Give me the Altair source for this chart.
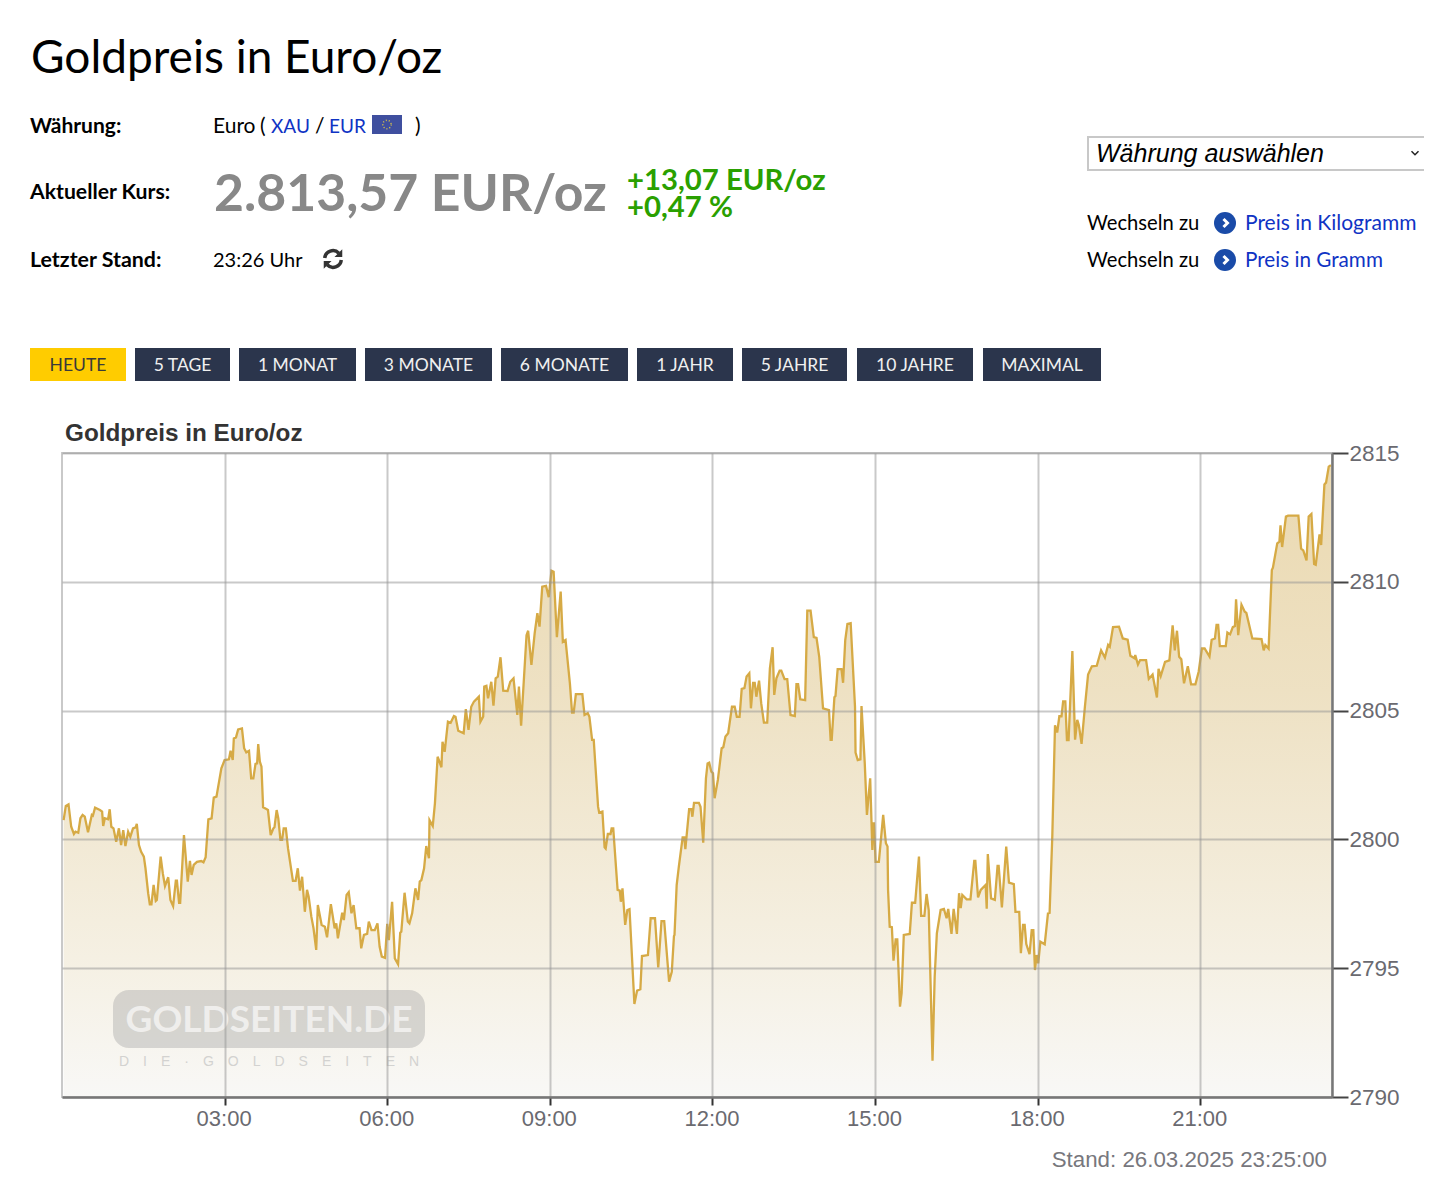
import altair as alt
import pandas as pd

hours = [0.03,0.07,0.12,0.17,0.22,0.25,0.30,0.34,0.38,0.42,0.48,0.55,0.57,0.61,0.70,0.74,0.76,0.79,0.85,0.88,0.91,0.95,1.00,1.05,1.09,1.13,1.17,1.22,1.26,1.31,1.36,1.38,1.42,1.46,1.51,1.54,1.59,1.62,1.65,1.69,1.73,1.75,1.82,1.86,1.90,1.96,2.00,2.05,2.10,2.12,2.16,2.18,2.25,2.32,2.36,2.39,2.43,2.49,2.57,2.61,2.65,2.70,2.76,2.80,2.85,2.94,3.00,
3.08,3.11,3.15,3.17,3.21,3.25,3.32,3.36,3.40,3.45,3.49,3.53,3.57,3.60,3.62,3.65,3.68,3.71,3.77,3.80,3.85,3.90,3.92,3.96,3.99,4.03,4.06,4.09,4.13,4.17,4.26,4.31,4.35,4.39,4.43,4.48,4.52,4.55,4.60,4.64,4.69,4.72,4.79,4.85,4.89,4.96,5.03,5.06,5.09,5.17,5.20,5.25,5.29,5.34,5.38,5.43,5.49,5.52,5.57,5.63,5.66,5.71,5.77,5.82,5.86,5.90,5.96,6.00,6.03,6.09,
6.14,6.20,6.24,6.26,6.32,6.38,6.41,6.46,6.52,6.57,6.60,6.63,6.68,6.72,6.77,6.78,6.84,6.88,6.93,7.00,7.02,7.06,7.12,7.17,7.23,7.26,7.31,7.41,7.45,7.50,7.55,7.60,7.69,7.72,7.77,7.79,7.83,7.86,7.92,7.96,8.00,8.04,8.09,8.14,8.22,8.27,8.33,8.40,8.43,8.47,8.57,8.60,8.66,8.72,8.77,8.81,8.86,8.93,8.98,9.03,9.07,
9.13,9.20,9.24,9.29,9.37,9.41,9.44,9.48,9.60,9.64,9.70,9.73,9.78,9.81,9.89,9.91,9.97,10.01,10.03,10.07,10.12,10.14,10.17,10.25,10.29,10.31,10.34,10.39,10.43,10.47,10.56,10.61,10.67,10.70,10.81,10.86,10.94,11.00,11.06,11.11,11.20,11.25,11.29,11.30,11.34,11.38,11.45,11.48,11.50,11.57,11.61,11.63,11.66,11.75,11.78,11.83,11.88,11.91,11.94,11.98,12.01,12.04,12.10,12.17,12.20,12.24,12.29,12.36,12.41,12.45,12.50,12.54,12.59,12.63,12.68,12.71,12.75,12.78,12.81,12.86,12.90,12.95,13.01,13.06,13.11,13.14,13.18,13.24,13.27,13.33,13.38,13.44,13.52,13.55,13.58,13.62,13.71,13.75,13.81,13.87,13.92,13.97,14.04,14.15,14.18,14.20,14.25,14.27,14.31,14.38,14.41,14.45,14.49,14.55,14.63,14.64,14.68,14.73,14.75,14.81,14.85,14.91,14.95,14.96,14.98,15.01,15.07,15.15,15.20,15.23,
15.24,15.27,15.31,15.34,15.38,15.41,15.46,15.49,15.53,15.64,15.68,15.74,15.81,15.85,15.91,15.95,15.99,16.06,16.10,16.14,16.21,16.27,16.32,16.35,16.41,16.45,16.51,16.55,16.58,16.61,16.69,16.76,16.83,16.85,16.90,16.95,17.04,17.06,17.08,17.14,17.21,17.26,17.28,17.34,17.42,17.47,17.56,17.59,17.66,17.69,17.73,17.76,17.79,17.85,17.89,17.92,17.95,17.98,18.01,18.05,18.13,18.19,18.22,
18.27,18.32,18.36,18.40,18.44,18.47,18.51,18.54,18.57,18.64,18.69,18.73,18.76,18.81,18.87,18.93,19.00,19.09,19.17,19.24,19.30,19.33,19.39,19.50,19.57,19.66,19.71,19.79,19.80,19.85,19.89,20.00,20.05,20.12,20.20,20.23,20.27,20.35,20.43,20.49,20.53,20.57,20.61,20.65,20.70,20.77,20.83,20.91,20.97,21.03,21.08,21.17,21.21,21.27,21.30,21.33,21.36,21.47,21.50,21.55,21.60,21.64,21.66,21.70,21.76,21.82,21.85,21.96,22.13,22.17,22.20,22.26,22.32,22.34,22.42,22.46,22.48,22.51,22.58,22.62,22.81,22.86,22.90,22.96,23.00,23.05,23.10,23.13,23.20,23.23,23.29,23.32,23.37,23.41]

# offsets above 2790 EUR/oz
above_2790 = [10.75,11.30,11.36,10.49,10.21,10.30,10.26,10.82,10.95,10.88,10.28,10.95,10.92,11.23,11.14,11.08,10.52,10.82,10.78,11.17,10.49,10.43,9.91,10.43,9.78,10.36,9.74,10.30,10.10,10.43,10.47,10.60,9.78,9.52,9.33,8.88,7.91,7.48,7.48,8.23,7.61,7.65,9.33,8.68,8.19,8.53,7.65,7.41,8.40,8.40,7.54,7.54,10.17,8.36,9.17,8.62,9.01,9.13,9.16,9.11,9.31,10.78,10.82,11.62,11.66,12.76,13.08,
13.11,13.44,13.08,13.92,13.96,14.27,14.31,13.54,13.38,13.44,12.37,12.37,12.93,12.95,13.70,13.02,12.82,11.25,11.18,11.14,10.17,10.43,10.47,11.14,10.82,9.98,9.98,10.43,10.43,9.65,8.39,8.39,8.88,8.01,8.55,7.19,8.04,7.78,7.00,6.55,5.71,7.45,6.68,6.61,6.20,7.49,6.55,6.74,6.16,7.15,6.87,7.84,7.95,7.13,7.45,6.55,6.55,5.77,6.29,6.33,6.81,6.48,6.48,6.74,5.83,5.45,5.40,6.72,6.09,7.58,
5.38,5.15,6.38,6.42,7.93,6.81,6.74,7.13,8.10,7.65,8.36,8.42,8.88,9.74,9.27,10.75,10.52,11.40,13.21,12.80,13.79,13.40,14.57,14.53,14.79,14.76,14.22,14.12,15.06,14.25,15.15,15.35,15.54,14.57,14.76,15.93,15.96,15.48,16.12,15.19,16.25,16.32,17.07,15.77,15.76,16.12,16.25,14.83,15.93,14.41,17.93,18.10,16.77,18.00,18.78,18.26,19.81,19.84,19.40,20.43,20.39,
17.85,19.62,17.67,17.74,16.06,14.92,14.92,15.64,15.64,14.83,14.90,14.76,13.86,13.86,11.27,11.04,11.08,9.69,9.64,10.21,10.21,10.43,10.43,8.04,8.01,7.58,8.10,6.68,7.26,7.29,3.61,4.13,4.18,5.47,5.51,6.94,6.94,5.03,6.83,6.83,4.48,4.86,6.25,6.29,8.23,8.94,10.08,10.08,9.62,11.17,11.17,10.88,11.42,11.42,11.27,9.87,12.37,12.95,12.98,12.63,12.57,11.60,12.31,13.54,13.58,13.99,14.12,15.15,15.15,14.76,14.76,15.84,15.87,16.32,16.45,15.09,16.08,16.08,15.54,16.16,15.28,14.53,14.53,16.64,17.46,15.61,16.25,16.55,16.55,16.22,16.22,14.83,14.79,16.03,16.03,15.44,15.41,18.88,18.88,17.85,17.82,17.09,15.09,15.02,13.86,13.86,15.52,15.57,16.61,16.61,16.08,17.74,18.36,18.39,15.15,13.37,13.08,13.11,15.18,12.95,10.95,12.37,9.59,10.62,10.62,9.13,9.13,10.95,9.85,9.72,
8.04,6.61,6.59,5.29,6.12,6.12,3.51,4.03,6.29,6.33,7.54,7.54,9.33,7.03,7.03,7.88,7.26,1.41,4.67,6.35,7.26,7.30,6.94,7.30,6.33,7.30,6.33,7.91,7.33,7.84,7.67,7.67,9.17,9.17,7.75,8.04,8.23,7.31,9.43,7.71,7.65,8.97,8.97,7.36,9.72,8.32,8.26,7.19,7.19,5.58,6.68,6.68,5.94,5.55,6.48,6.48,4.93,5.51,5.19,6.03,5.93,7.13,7.15,
10.13,14.43,14.15,14.78,14.78,15.36,15.36,13.85,13.85,17.31,13.87,14.64,14.43,13.71,15.12,16.40,16.72,16.74,17.34,17.06,17.55,17.48,18.24,18.26,17.80,17.75,17.13,17.03,17.16,16.79,16.96,16.96,16.23,16.40,15.51,16.62,16.34,16.89,16.95,18.31,17.34,18.10,17.09,16.99,16.06,16.72,16.02,16.02,16.51,17.41,17.41,17.10,17.75,17.80,18.33,18.33,17.50,17.50,18.03,17.96,18.24,18.28,19.32,17.93,19.11,18.84,18.79,17.80,17.78,17.34,17.55,17.41,20.46,20.55,21.49,21.56,22.19,21.35,22.53,22.57,22.57,21.29,21.22,20.83,22.53,22.63,20.69,20.66,21.84,21.43,23.78,23.85,24.47,24.53]

n = min(len(hours), len(above_2790))
df = pd.DataFrame({"h": hours[:n], "p": [2790 + v for v in above_2790[:n]], "base": [2790] * n})

button_names = ["HEUTE", "5 TAGE", "1 MONAT", "3 MONATE", "6 MONATE", "1 JAHR", "5 JAHRE", "10 JAHRE", "MAXIMAL"]
button_left = [30, 135, 239, 365, 501, 637, 742, 857, 983]
button_right = [126, 230, 356, 492, 628, 733, 847, 973, 1101]

OX, OY = 62, 453
BODY = "Lato"
ARIAL = "Liberation Sans"
LINK = "#0f33c4"
ONE = alt.Data(values=[{}])


def txt(s, x, y, size, color="#000000", font=BODY, weight="normal", style="normal", align="left", opacity=1):
    return alt.Chart(ONE).mark_text(
        text=s, fontSize=size, color=color, font=font, fontWeight=weight, fontStyle=style,
        align=align, baseline="middle", opacity=opacity,
    ).encode(x=alt.value(x - OX), y=alt.value(y - OY))


def box(x0, x1, y0, y1, fill, stroke=None, radius=0, opacity=1):
    kw = {"stroke": stroke, "strokeWidth": 2} if stroke else {}
    return alt.Chart(ONE).mark_rect(fill=fill, cornerRadius=radius, opacity=opacity, **kw).encode(
        x=alt.value(x0 - OX), x2=alt.value(x1 - OX), y=alt.value(y0 - OY), y2=alt.value(y1 - OY)
    )


def dot(x, y, size, fill=None, stroke=None, shape="circle", width=2, dash=None):
    kw = {}
    if fill:
        kw["fill"] = fill
    if stroke:
        kw["stroke"] = stroke
        kw["strokeWidth"] = width
    if dash:
        kw["strokeDash"] = dash
    return alt.Chart(ONE).mark_point(size=size, shape=shape, opacity=1, filled=bool(fill), **kw).encode(
        x=alt.value(x - OX), y=alt.value(y - OY)
    )


x_enc = alt.X("h:Q", scale=alt.Scale(domain=[0, 23.43], nice=False), axis=alt.Axis(
    values=[3, 6, 9, 12, 15, 18, 21], labelExpr="(datum.value<10?'0':'')+datum.value+':00'",
    title=None, grid=True, gridColor="#949494", gridOpacity=0.5, gridWidth=2, tickSize=8, tickColor="#333333", tickWidth=2,
    domainColor="#777777", domainWidth=2.5, labelFont=ARIAL, labelFontSize=22, labelColor="#6a6a70",
    labelPadding=3, labelOffset=-1, labelFlush=False, zindex=1))
y_enc = alt.Y("p:Q", scale=alt.Scale(domain=[2790, 2815], nice=False, zero=False), axis=alt.Axis(
    orient="right", values=[2790, 2795, 2800, 2805, 2810, 2815], format="d", title=None, grid=True,
    gridColor="#949494", gridOpacity=0.5, gridWidth=2, tickSize=16, tickColor="#444444", tickWidth=2, domainColor="#777777",
    domainWidth=2.5, labelFont=ARIAL, labelFontSize=22.5, labelColor="#6a6a70", labelPadding=1, labelFlush=False, zindex=1))

gradient = alt.Gradient(gradient="linear", x1=1, x2=1, y1=1, y2=0, stops=[
    alt.GradientStop(color="#efeeea", offset=0),
    alt.GradientStop(color="#e8ddc0", offset=0.2),
    alt.GradientStop(color="#d6b76f", offset=0.65),
    alt.GradientStop(color="#cfa545", offset=1),
])
area = alt.Chart(df).mark_area(line=False, color=gradient, opacity=0.42).encode(
    x=x_enc, y=y_enc, y2=alt.Y2("base:Q"))
line = alt.Chart(df).mark_line(color="#d6aa45", strokeWidth=2.3, clip=True).encode(x=x_enc, y=y_enc)

layers = [area]
# watermark
tagline = "\u2003".join("DIE·GOLDSEITEN")
layers += [
    box(113, 425, 990, 1048, "#a8a8a8", radius=16, opacity=0.42),
    txt("GOLDSEITEN.DE", 269, 1021, 37, "#ffffff", BODY, "bold", align="center", opacity=0.62),
    txt(tagline, 269, 1062, 14, "#bbbbbb", ARIAL, align="center", opacity=0.6),
]
layers.append(line)
# page header
layers += [
    txt("Goldpreis in Euro/oz", 31, 59, 46),
    txt("Währung:", 30, 127, 21, weight="bold"),
    txt("Aktueller Kurs:", 30, 193, 21.2, weight="bold"),
    txt("Letzter Stand:", 30, 261, 21.4, weight="bold"),
    txt("Euro", 213, 127, 21),
    txt("(", 260, 127, 21),
    txt("XAU", 271, 127, 19, LINK),
    txt("/", 315, 127, 21),
    txt("EUR", 329, 127, 19, LINK),
    txt(")", 415, 127, 21),
    box(372, 402, 115, 134, "#3f4f9f"),
    dot(387, 124.5, 70, stroke="#d8c24a", width=1.5, dash=[1, 2]),
    txt("2.813,57 EUR/oz", 214, 195, 51.7, "#888888", BODY, "bold"),
    txt("+13,07 EUR/oz", 627, 181, 29.3, "#2aa000", BODY, "bold"),
    txt("+0,47 %", 627, 208, 29.3, "#2aa000", BODY, "bold"),
    txt("23:26 Uhr", 213, 261, 20),
    dot(333, 259, 380, stroke="#333333", shape="M-0.85,-0.1A0.85,0.85 0 0 1 0.6,-0.6M0.85,0.1A0.85,0.85 0 0 1 -0.6,0.6", width=3.5),
    dot(333, 259, 380, fill="#333333", shape="M0.95,-1L0.95,-0.2L0.15,-0.2ZM-0.95,1L-0.95,0.2L-0.15,0.2Z"),
    box(1088, 1450, 137, 170, "#ffffff", stroke="#c8c8c8"),
    txt("Währung auswählen", 1096, 154, 25, "#000000", ARIAL, style="italic"),
    dot(1415, 153, 196, stroke="#222222", shape="M-0.5,-0.25L0,0.25L0.5,-0.25", width=1.5),
    txt("Wechseln zu", 1087, 224, 20.2),
    txt("Wechseln zu", 1087, 261, 20.2),
    dot(1225, 223, 484, fill="#1a4ba8"),
    dot(1225, 260, 484, fill="#1a4ba8"),
    dot(1225.5, 223, 100, stroke="#ffffff", shape="M-0.4,-0.8L0.4,0L-0.4,0.8", width=3),
    dot(1225.5, 260, 100, stroke="#ffffff", shape="M-0.4,-0.8L0.4,0L-0.4,0.8", width=3),
    txt("Preis in Kilogramm", 1245, 224, 21, LINK),
    txt("Preis in Gramm", 1245, 261, 20.7, LINK),
]
for i, name in enumerate(button_names):
    active = i == 0
    layers.append(box(button_left[i], button_right[i], 348, 381, "#ffcc00" if active else "#2b354c"))
    layers.append(txt(name, (button_left[i] + button_right[i]) / 2, 366, 17.5,
                      "#3a3a3a" if active else "#f0f0f0", align="center"))
layers += [
    txt("Goldpreis in Euro/oz", 65, 434, 24.3, "#333333", ARIAL, "bold"),
    txt("Stand: 26.03.2025 23:25:00", 1327, 1160, 22.3, "#77777d", ARIAL, align="right"),
]

chart = alt.layer(*layers).properties(
    width=1270, height=644,
    padding={"left": 54, "top": 445, "right": 92, "bottom": 80},
    autosize=alt.AutoSizeParams(type="none"),
    background="#ffffff",
).configure_view(stroke="#c9c9c9", strokeWidth=2)

chart.save("out.html", embed_options={"renderer": "svg", "actions": False})
